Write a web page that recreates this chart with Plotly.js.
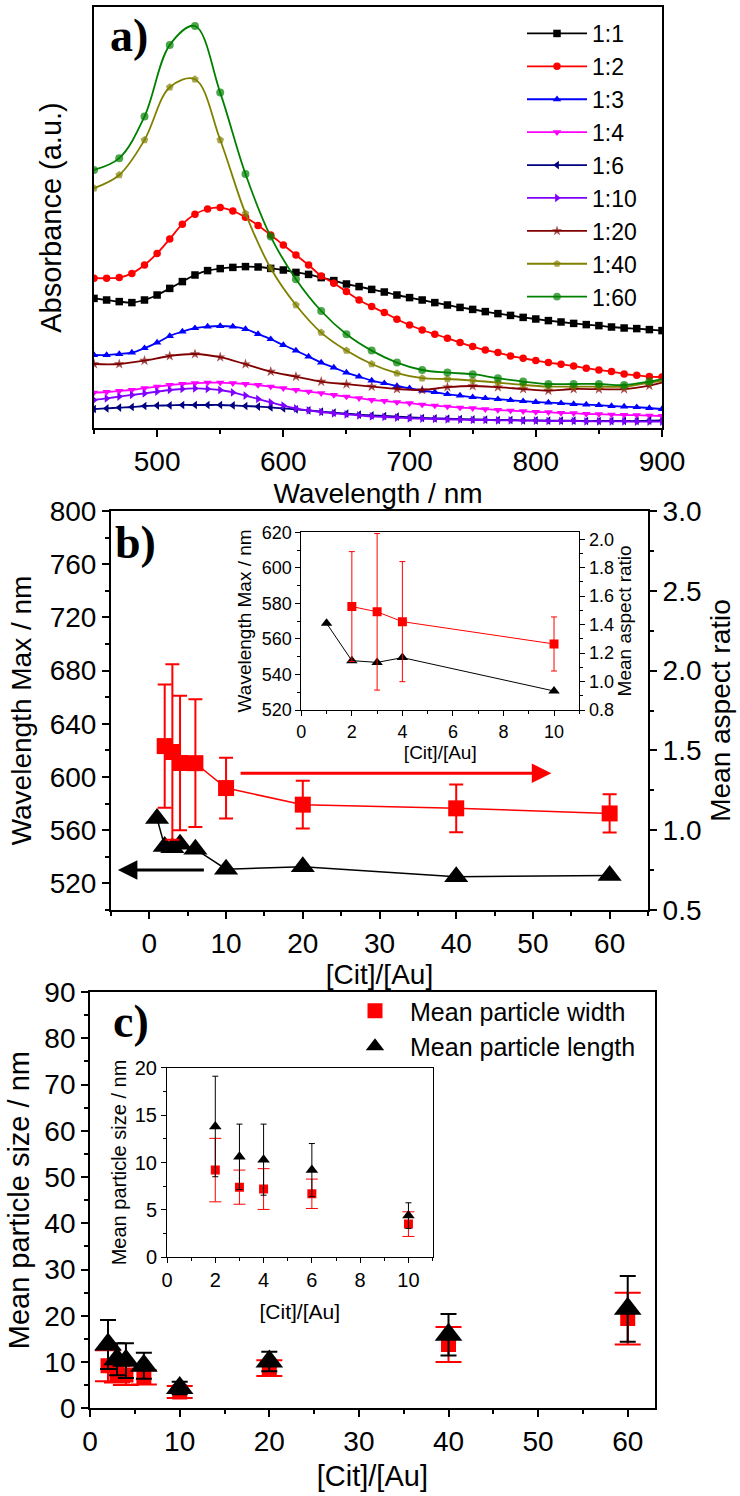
<!DOCTYPE html>
<html>
<head>
<meta charset="utf-8">
<script src="https://cdn.plot.ly/plotly-3.0.1.min.js"></script>
<style>html,body{margin:0;padding:0;background:#fff;}#chart{width:740px;height:1496px;}</style>
</head>
<body>
<div id="chart"></div>
<script>
// ---------- Panel a: UV-vis spectra ----------
const wl10 = [450,460,470,480,490,500,510,520,530,540,550,560,570,580,590,600,610,620,630,640,650,660,670,680,690,700,710,720,730,740,750,760,770,780,790,800,810,820,830,840,850,860,870,880,890,900];
const wl20 = [450,470,490,510,530,550,570,590,610,630,650,670,690,710,730,750,770,790,810,830,850,870,890,900];

const abs_1_1 = [0.648,0.640,0.632,0.627,0.640,0.665,0.698,0.732,0.765,0.787,0.797,0.803,0.807,0.805,0.798,0.790,0.778,0.768,0.752,0.737,0.720,0.707,0.693,0.680,0.665,0.652,0.640,0.627,0.615,0.603,0.593,0.582,0.572,0.563,0.553,0.545,0.537,0.530,0.523,0.517,0.512,0.505,0.500,0.497,0.492,0.487];
const abs_1_2 = [0.749,0.749,0.752,0.773,0.815,0.873,0.945,1.019,1.069,1.095,1.102,1.085,1.054,1.013,0.965,0.915,0.865,0.815,0.760,0.724,0.682,0.640,0.607,0.577,0.544,0.515,0.490,0.469,0.449,0.427,0.407,0.390,0.377,0.360,0.349,0.337,0.327,0.319,0.310,0.299,0.290,0.282,0.270,0.264,0.257,0.255];
const abs_1_3 = [0.365,0.365,0.370,0.377,0.399,0.427,0.460,0.482,0.499,0.507,0.510,0.507,0.495,0.470,0.444,0.415,0.387,0.357,0.327,0.302,0.277,0.257,0.237,0.224,0.210,0.199,0.187,0.179,0.169,0.162,0.154,0.149,0.144,0.139,0.134,0.130,0.127,0.124,0.120,0.117,0.114,0.110,0.107,0.104,0.100,0.095];
const abs_1_4 = [0.177,0.180,0.185,0.190,0.199,0.207,0.215,0.220,0.224,0.227,0.227,0.224,0.220,0.215,0.207,0.199,0.190,0.182,0.174,0.165,0.157,0.149,0.140,0.135,0.129,0.124,0.117,0.112,0.107,0.102,0.099,0.094,0.090,0.087,0.084,0.080,0.079,0.075,0.074,0.070,0.069,0.067,0.065,0.064,0.062,0.060];
const abs_1_6 = [0.095,0.098,0.102,0.105,0.110,0.112,0.113,0.115,0.115,0.115,0.115,0.113,0.110,0.107,0.103,0.098,0.093,0.088,0.082,0.077,0.072,0.067,0.063,0.060,0.057,0.053,0.050,0.048,0.047,0.045,0.043,0.042,0.040,0.040,0.038,0.038,0.037,0.037,0.037,0.035,0.035,0.035,0.035,0.035,0.037,0.038];
const abs_1_10 = [0.140,0.148,0.157,0.165,0.173,0.182,0.190,0.195,0.198,0.195,0.190,0.178,0.162,0.145,0.128,0.112,0.098,0.088,0.080,0.073,0.068,0.063,0.058,0.055,0.052,0.048,0.047,0.045,0.043,0.042,0.040,0.040,0.038,0.038,0.037,0.037,0.035,0.035,0.035,0.033,0.033,0.033,0.033,0.032,0.032,0.032];
const abs_1_20 = [0.320,0.320,0.337,0.360,0.370,0.354,0.319,0.282,0.257,0.232,0.219,0.207,0.195,0.190,0.204,0.210,0.204,0.195,0.187,0.195,0.194,0.194,0.212,0.227];
const abs_1_40 = [1.199,1.265,1.440,1.704,1.744,1.440,1.073,0.799,0.615,0.477,0.387,0.320,0.274,0.249,0.245,0.237,0.227,0.215,0.207,0.207,0.207,0.207,0.227,0.235];
const abs_1_60 = [1.290,1.349,1.557,1.915,2.010,1.677,1.270,0.957,0.744,0.585,0.469,0.387,0.327,0.290,0.277,0.269,0.249,0.232,0.220,0.220,0.220,0.215,0.232,0.244];

// ---------- Panel b: wavelength max & aspect ratio ----------
const citWl = [1,2,3,4,6,10,20,40,60];
const wlMax = [568.8,547.8,546.8,549.5,545.7,530.7,532.5,525.0,526.0];
const citAr = [2,3,4,6,10,20,40,60];
const aspectRatio = [1.527,1.49,1.421,1.42,1.264,1.16,1.137,1.105];
const aspectErr = [0.386,0.55,0.422,0.40,0.19,0.15,0.15,0.12];
// inset b
const insetCitWl = [1,2,3,4,10];
const insetWlMax = [568.8,547.8,546.8,549.5,530.7];
const insetCitAr = [2,3,4,10];
const insetAr = [1.527,1.49,1.421,1.264];
const insetArErr = [0.386,0.55,0.422,0.19];

// ---------- Panel c: particle sizes ----------
const citSize = [2,3,4,6,10,20,40,60];
const meanWidth = [9.2,7.4,7.2,6.7,3.5,8.7,13.8,19.4];
const widthErr = [3.35,1.8,2.15,1.55,1.3,1.7,3.8,5.6];
const meanLength = [13.8,10.6,10.3,9.2,4.4,10.1,15.9,21.5];
const lengthErr = [5.3,3.45,3.75,2.8,1.35,2.1,4.5,7.1];
// inset c
const insetCitSize = [2,3,4,6,10];
const insetWidth = [9.2,7.4,7.2,6.7,3.5];
const insetWidthErr = [3.35,1.8,2.15,1.55,1.3];
const insetLength = [13.8,10.6,10.3,9.2,4.4];
const insetLengthErr = [5.3,3.45,3.75,2.8,1.35];

const legendLabels = ['1:1','1:2','1:3','1:4','1:6','1:10','1:20','1:40','1:60'];

const F = 'Liberation Sans, Arial, Helvetica, sans-serif';
const SERIF = 'Liberation Serif, Times New Roman, serif';

function spec(x, y, name, color, symbol, sparse) {
  const sizes = sparse ? x.map(w => ((w - 450) % 20 === 0 ? 8 : 0)) : 7.5;
  return {
    x: x, y: y, name: name, type: 'scatter', mode: 'lines+markers',
    xaxis: 'x', yaxis: 'y', legend: 'legend',
    line: {color: color, width: 1.8, shape: 'spline', smoothing: 1},
    marker: {color: color, symbol: symbol, size: sizes, line: {width: 0}}
  };
}

const traces = [
  spec(wl10, abs_1_1, legendLabels[0], '#000000', 'square', false),
  spec(wl10, abs_1_2, legendLabels[1], '#ff0000', 'circle', false),
  spec(wl10, abs_1_3, legendLabels[2], '#0000ff', 'triangle-up', false),
  spec(wl10, abs_1_4, legendLabels[3], '#ff00ff', 'triangle-down', false),
  spec(wl10, abs_1_6, legendLabels[4], '#000080', 'triangle-left', false),
  spec(wl10, abs_1_10, legendLabels[5], '#8000ff', 'triangle-right', false),
  spec(wl20, abs_1_20, legendLabels[6], '#800000', 'star', true),
  spec(wl20, abs_1_40, legendLabels[7], '#808000', 'pentagon', true),
  spec(wl20, abs_1_60, legendLabels[8], '#008000', 'circle', true),
  // panel b main
  {x: citWl, y: wlMax, type: 'scatter', mode: 'lines+markers', xaxis: 'x2', yaxis: 'y2', showlegend: false,
   line: {color: '#000', width: 1.5}, marker: {symbol: 'triangle-up', size: 21, color: '#000'}},
  {x: citAr, y: aspectRatio, type: 'scatter', mode: 'lines+markers', xaxis: 'x2', yaxis: 'y3', showlegend: false,
   line: {color: '#ff0000', width: 1.5}, marker: {symbol: 'square', size: 16, color: '#ff0000'},
   error_y: {type: 'data', array: aspectErr, color: '#ff0000', thickness: 2, width: 7}},
  // panel b inset
  {x: insetCitWl, y: insetWlMax, type: 'scatter', mode: 'lines+markers', xaxis: 'x3', yaxis: 'y4', showlegend: false,
   line: {color: '#000', width: 1}, marker: {symbol: 'triangle-up', size: 10, color: '#000'}},
  {x: insetCitAr, y: insetAr, type: 'scatter', mode: 'lines+markers', xaxis: 'x3', yaxis: 'y5', showlegend: false,
   line: {color: '#ff0000', width: 1}, marker: {symbol: 'square', size: 9, color: '#ff0000'},
   error_y: {type: 'data', array: insetArErr, color: '#ff0000', thickness: 1, width: 3}},
  // panel c main
  {x: citSize, y: meanWidth, name: 'Mean particle width', type: 'scatter', mode: 'markers', xaxis: 'x4', yaxis: 'y6', legend: 'legend2',
   marker: {symbol: 'square', size: 15, color: '#ff0000'},
   error_y: {type: 'data', array: widthErr, color: '#ff0000', thickness: 2, width: 13}},
  {x: citSize, y: meanLength, name: 'Mean particle length', type: 'scatter', mode: 'markers', xaxis: 'x4', yaxis: 'y6', legend: 'legend2',
   marker: {symbol: 'triangle-up', size: 24, color: '#000'},
   error_y: {type: 'data', array: lengthErr, color: '#000', thickness: 2, width: 8}},
  // panel c inset
  {x: insetCitSize, y: insetWidth, type: 'scatter', mode: 'markers', xaxis: 'x5', yaxis: 'y7', showlegend: false,
   marker: {symbol: 'square', size: 9, color: '#ff0000'},
   error_y: {type: 'data', array: insetWidthErr, color: '#ff0000', thickness: 1, width: 6}},
  {x: insetCitSize, y: insetLength, type: 'scatter', mode: 'markers', xaxis: 'x5', yaxis: 'y7', showlegend: false,
   marker: {symbol: 'triangle-up', size: 11, color: '#000'},
   error_y: {type: 'data', array: insetLengthErr, color: '#000', thickness: 1, width: 3}}
];

function ax(o) {
  const big = !o.small;
  const base = {
    showline: true, linecolor: '#000', linewidth: big ? 2 : 1, mirror: true,
    ticks: 'outside', ticklen: big ? 7 : 5, tickwidth: big ? 2 : 1, tickcolor: '#000',
    showgrid: false, zeroline: false, automargin: false,
    tickfont: {family: F, size: big ? 28 : 18, color: '#000'}
  };
  delete o.small;
  if (o.minorDtick !== undefined) {
    base.minor = {dtick: o.minorDtick, ticks: 'outside', ticklen: big ? 4 : 3, tickwidth: big ? 2 : 1, tickcolor: '#000'};
    delete o.minorDtick;
  }
  return Object.assign(base, o);
}
function ttl(text, size, standoff) {
  return {text: text, font: {family: F, size: size, color: '#000'}, standoff: standoff};
}

const W = 740, H = 1496;
const px = v => v / W;
const py = v => 1 - v / H;

const layout = {
  width: W, height: H, margin: {l: 0, r: 0, t: 0, b: 0},
  paper_bgcolor: '#fff', plot_bgcolor: 'rgba(0,0,0,0)', showlegend: true,
  font: {family: F, color: '#000'},
  // panel a
  xaxis: ax({domain: [px(94), px(662)], anchor: 'y', range: [450, 900], dtick: 100, tick0: 0, minorDtick: 50,
             title: ttl('Wavelength / nm', 28, 8)}),
  yaxis: ax({domain: [py(428), py(7)], anchor: 'x', range: [0, 2.105], ticks: '', showticklabels: false,
             title: ttl('Absorbance (a.u.)', 29, 22)}),
  // panel b
  xaxis2: ax({domain: [px(111), px(648)], anchor: 'y2', range: [-5, 65], dtick: 10, tick0: 0, minorDtick: 5,
              title: ttl('[Cit]/[Au]', 28, 6)}),
  yaxis2: ax({domain: [py(910), py(511)], anchor: 'x2', range: [500, 800], dtick: 40, tick0: 0, minorDtick: 20, mirror: false,
              title: ttl('Wavelength Max / nm', 28, 10)}),
  yaxis3: ax({overlaying: 'y2', side: 'right', anchor: 'x2', range: [0.5, 3.0], dtick: 0.5, tick0: 0, tickformat: '.1f', minorDtick: 0.25, mirror: false,
              title: ttl('Mean aspect ratio', 28, 10)}),
  // panel b inset
  xaxis3: ax({small: true, domain: [px(301.3), px(579.3)], anchor: 'y4', range: [0, 11], dtick: 2, tick0: 0, minorDtick: 1,
              title: ttl('[Cit]/[Au]', 19, 2)}),
  yaxis4: ax({small: true, domain: [py(710), py(531.7)], anchor: 'x3', range: [520, 620.4], dtick: 20, tick0: 0, minorDtick: 10, mirror: false,
              title: ttl('Wavelength Max / nm', 19, 4)}),
  yaxis5: ax({small: true, overlaying: 'y4', side: 'right', anchor: 'x3', range: [0.8, 2.053], dtick: 0.2, tick0: 0.8, tickformat: '.1f', minorDtick: 0.1, mirror: false,
              title: ttl('Mean aspect ratio', 19, 4)}),
  // panel c
  xaxis4: ax({domain: [px(90.1), px(654.6)], anchor: 'y6', range: [0, 63], dtick: 10, tick0: 0, minorDtick: 5,
              title: ttl('[Cit]/[Au]', 29, 10)}),
  yaxis6: ax({domain: [py(1408.3), py(992)], anchor: 'x4', range: [0, 90], dtick: 10, tick0: 0, minorDtick: 5,
              title: ttl('Mean particle size / nm', 29, 6)}),
  // panel c inset
  xaxis5: ax({small: true, domain: [px(167), px(432.6)], anchor: 'y7', range: [0, 11], dtick: 2, tick0: 0, minorDtick: 1,
              tickfont: {family: F, size: 20, color: '#000'}, title: ttl('[Cit]/[Au]', 21, 14)}),
  yaxis7: ax({small: true, domain: [py(1257.3), py(1067.7)], anchor: 'x5', range: [0, 20], dtick: 5, tick0: 0, minorDtick: 2.5,
              tickfont: {family: F, size: 20, color: '#000'}, title: ttl('Mean particle size / nm', 20, 2)}),
  legend: {x: px(522), y: py(12), xanchor: 'left', yanchor: 'top', bgcolor: 'rgba(0,0,0,0)', borderwidth: 0,
           font: {family: F, size: 23, color: '#000'}, tracegroupgap: 0, itemwidth: 60},
  legend2: {x: px(340), y: py(988), xanchor: 'left', yanchor: 'top', bgcolor: 'rgba(0,0,0,0)', borderwidth: 0,
            font: {family: F, size: 25, color: '#000'}, itemwidth: 60},
  annotations: [
    {text: '<b>a)</b>', xref: 'paper', yref: 'paper', x: px(108), y: py(35), xanchor: 'left', yanchor: 'middle', showarrow: false,
     font: {family: SERIF, size: 46, color: '#000'}},
    {text: '<b>b)</b>', xref: 'paper', yref: 'paper', x: px(113), y: py(542), xanchor: 'left', yanchor: 'middle', showarrow: false,
     font: {family: SERIF, size: 46, color: '#000'}},
    {text: '<b>c)</b>', xref: 'paper', yref: 'paper', x: px(111), y: py(1021), xanchor: 'left', yanchor: 'middle', showarrow: false,
     font: {family: SERIF, size: 46, color: '#000'}},
    {text: '', xref: 'x2', yref: 'y3', x: 52.4, y: 1.357, axref: 'x2', ayref: 'y3', ax: 11.7, ay: 1.357,
     showarrow: true, arrowhead: 2, arrowsize: 1.3, arrowwidth: 3, arrowcolor: '#ff0000', standoff: 0},
    {text: '', xref: 'x2', yref: 'y2', x: -4.1, y: 530, axref: 'x2', ayref: 'y2', ax: 7.3, ay: 530,
     showarrow: true, arrowhead: 2, arrowsize: 1.3, arrowwidth: 3, arrowcolor: '#000', standoff: 0}
  ]
};

Plotly.newPlot('chart', traces, layout, {displayModeBar: false, responsive: false});
</script>
</body>
</html>
